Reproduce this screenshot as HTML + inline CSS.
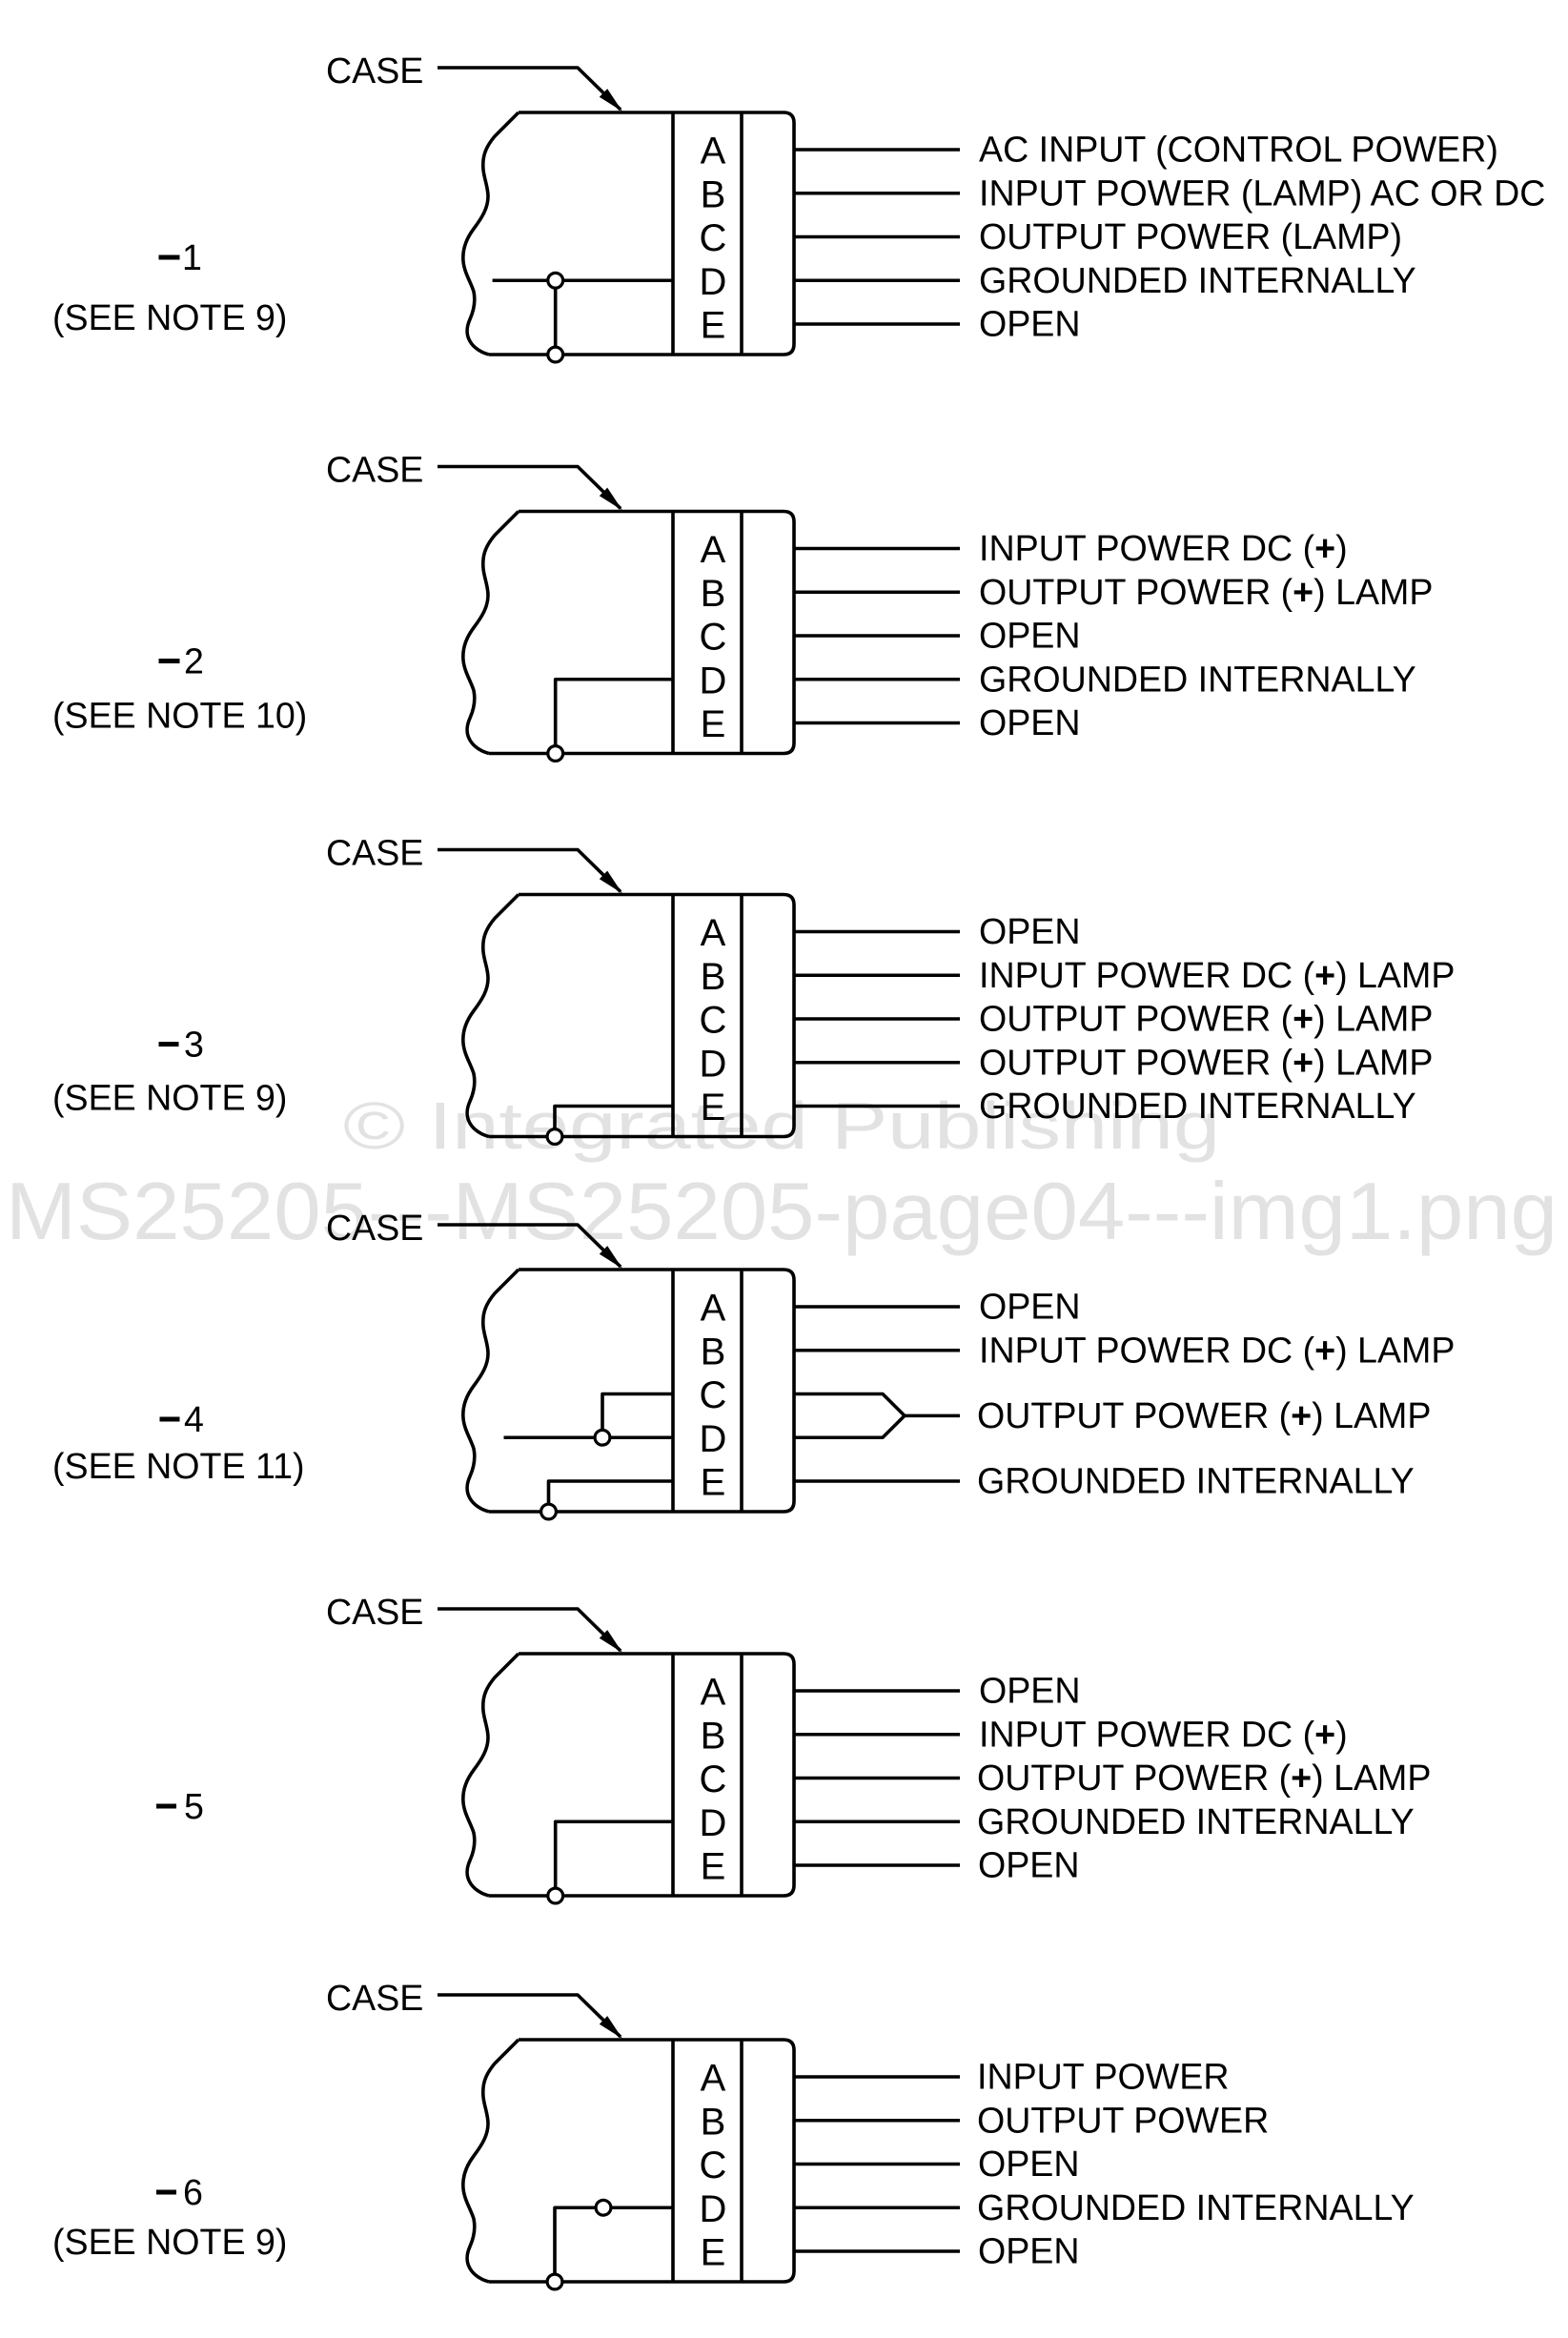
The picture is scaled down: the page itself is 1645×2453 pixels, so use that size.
<!DOCTYPE html>
<html>
<head>
<meta charset="utf-8">
<style>
  html, body { margin: 0; padding: 0; background: #ffffff; }
  svg { display: block; }
  .ln { fill: none; stroke: #000; stroke-width: 3.6; stroke-linejoin: round; }
  .ci { fill: #fff; stroke: #000; stroke-width: 3.2; }
  .t { font-family: "Liberation Sans", Arial, sans-serif; font-size: 37.6px; fill: #000; }
  .lt { font-family: "Liberation Sans", Arial, sans-serif; font-size: 40px; fill: #000; text-anchor: middle; }
  .wm { font-family: "Liberation Sans", Arial, sans-serif; fill: #e2e2e2; }
</style>
</head>
<body>
<svg width="1645" height="2453" viewBox="0 0 1645 2453" xmlns="http://www.w3.org/2000/svg">
  <rect x="0" y="0" width="1645" height="2453" fill="#fff"/>

  <!-- watermark -->
  <text class="wm" x="360" y="1205" font-size="70" textLength="920" lengthAdjust="spacingAndGlyphs">© Integrated Publishing</text>
  <text class="wm" x="6" y="1300" font-size="85" textLength="1628" lengthAdjust="spacingAndGlyphs">MS25205---MS25205-page04---img1.png</text>

  <defs>
    <g id="base">
      <text class="t" x="342" y="-31">CASE</text>
      <polyline class="ln" points="459,-47 606,-47 651,-3"/>
      <polygon points="653,-1 628.8,-16.3 637.2,-24.9" fill="#000"/>
      <path class="ln" d="M544,0 L519,25 C508,38 506,48 507,60 C508,70 512,78 512,88 C512,100 506,110 497,122 C488,134 485,145 486,156 C487,168 494,178 497,188 C499,198 497,208 493,217 C489,226 489,233 493,240 C497,247 505,252 513,254"/>
      <path class="ln" d="M544,0 L822,0 Q833,0 833,11 L833,243 Q833,254 822,254 L513,254"/>
      <path class="ln" d="M706,0 V254 M778,0 V254"/>
      <text class="lt" x="748" y="53.5">A</text>
      <text class="lt" x="748" y="99.25">B</text>
      <text class="lt" x="748" y="145">C</text>
      <text class="lt" x="748" y="190.75">D</text>
      <text class="lt" x="748" y="236.5">E</text>
    </g>
    <path id="fiveLines" class="ln" d="M833,39 H1007 M833,84.75 H1007 M833,130.5 H1007 M833,176.25 H1007 M833,222 H1007"/>
  </defs>

  <!-- Diagram 1 -->
  <g transform="translate(0,118)">
    <use href="#base"/>
    <use href="#fiveLines"/>
    <path class="ln" d="M516.6,176.25 H706 M582.7,176.25 V254"/>
    <circle class="ci" cx="582.7" cy="176.25" r="7.9"/>
    <circle class="ci" cx="582.7" cy="254" r="7.9"/>
    <rect x="166.5" y="149.5" width="22" height="5" fill="#000"/>
    <text class="t" x="191" y="165">1</text>
    <text class="t" x="55" y="228">(SEE NOTE 9)</text>
    <text class="t" x="1027" y="51.5">AC INPUT (CONTROL POWER)</text>
    <text class="t" x="1027" y="97.25">INPUT POWER (LAMP) AC OR DC</text>
    <text class="t" x="1027" y="143">OUTPUT POWER (LAMP)</text>
    <text class="t" x="1027" y="188.75">GROUNDED INTERNALLY</text>
    <text class="t" x="1027" y="234.5">OPEN</text>
  </g>

  <!-- Diagram 2 -->
  <g transform="translate(0,536.5)">
    <use href="#base"/>
    <use href="#fiveLines"/>
    <path class="ln" d="M706,176.25 H582.7 V254"/>
    <circle class="ci" cx="582.7" cy="254" r="7.9"/>
    <rect x="166.5" y="154.5" width="22" height="5" fill="#000"/>
    <text class="t" x="193" y="170">2</text>
    <text class="t" x="55" y="227">(SEE NOTE 10)</text>
    <text class="t" x="1027" y="51.5">INPUT POWER DC (<tspan font-weight="bold">+</tspan>)</text>
    <text class="t" x="1027" y="97.25">OUTPUT POWER (<tspan font-weight="bold">+</tspan>) LAMP</text>
    <text class="t" x="1027" y="143">OPEN</text>
    <text class="t" x="1027" y="188.75">GROUNDED INTERNALLY</text>
    <text class="t" x="1027" y="234.5">OPEN</text>
  </g>

  <!-- Diagram 3 -->
  <g transform="translate(0,938.5)">
    <use href="#base"/>
    <use href="#fiveLines"/>
    <path class="ln" d="M706,222 H582 V254"/>
    <circle class="ci" cx="582" cy="254" r="7.9"/>
    <rect x="166.5" y="154.5" width="21" height="5" fill="#000"/>
    <text class="t" x="193" y="170">3</text>
    <text class="t" x="55" y="226">(SEE NOTE 9)</text>
    <text class="t" x="1027" y="51.5">OPEN</text>
    <text class="t" x="1027" y="97.25">INPUT POWER DC (<tspan font-weight="bold">+</tspan>) LAMP</text>
    <text class="t" x="1027" y="143">OUTPUT POWER (<tspan font-weight="bold">+</tspan>) LAMP</text>
    <text class="t" x="1027" y="188.75">OUTPUT POWER (<tspan font-weight="bold">+</tspan>) LAMP</text>
    <text class="t" x="1027" y="234.5">GROUNDED INTERNALLY</text>
  </g>

  <!-- Diagram 4 -->
  <g transform="translate(0,1332)">
    <use href="#base"/>
    <path class="ln" d="M833,39 H1007 M833,84.75 H1007 M833,222 H1007"/>
    <path class="ln" d="M833,130.5 H926 L949,153.375 L926,176.25 H833 M949,153.375 H1007"/>
    <path class="ln" d="M706,130.5 H632 V176.25 M528.5,176.25 H706 M706,222 H575.5 V254"/>
    <circle class="ci" cx="632" cy="176.25" r="7.9"/>
    <circle class="ci" cx="575.5" cy="254" r="7.9"/>
    <rect x="167.5" y="154.5" width="21" height="5" fill="#000"/>
    <text class="t" x="193" y="170">4</text>
    <text class="t" x="55" y="219">(SEE NOTE 11)</text>
    <text class="t" x="1027" y="51.5">OPEN</text>
    <text class="t" x="1027" y="97.25">INPUT POWER DC (<tspan font-weight="bold">+</tspan>) LAMP</text>
    <text class="t" x="1025" y="165.9">OUTPUT POWER (<tspan font-weight="bold">+</tspan>) LAMP</text>
    <text class="t" x="1025" y="234.5">GROUNDED INTERNALLY</text>
  </g>

  <!-- Diagram 5 -->
  <g transform="translate(0,1735)">
    <use href="#base"/>
    <use href="#fiveLines"/>
    <path class="ln" d="M706,176.25 H582.7 V254"/>
    <circle class="ci" cx="582.7" cy="254" r="7.9"/>
    <rect x="164" y="157.5" width="21" height="5" fill="#000"/>
    <text class="t" x="193" y="173">5</text>
    <text class="t" x="1027" y="51.5">OPEN</text>
    <text class="t" x="1027" y="97.25">INPUT POWER DC (<tspan font-weight="bold">+</tspan>)</text>
    <text class="t" x="1025" y="143">OUTPUT POWER (<tspan font-weight="bold">+</tspan>) LAMP</text>
    <text class="t" x="1025" y="188.75">GROUNDED INTERNALLY</text>
    <text class="t" x="1026" y="234.5">OPEN</text>
  </g>

  <!-- Diagram 6 -->
  <g transform="translate(0,2140)">
    <use href="#base"/>
    <use href="#fiveLines"/>
    <path class="ln" d="M706,176.25 H582 V254"/>
    <circle class="ci" cx="633" cy="176.25" r="7.9"/>
    <circle class="ci" cx="582" cy="254" r="7.9"/>
    <rect x="164" y="157.5" width="21" height="5" fill="#000"/>
    <text class="t" x="192" y="173">6</text>
    <text class="t" x="55" y="225">(SEE NOTE 9)</text>
    <text class="t" x="1025" y="51.5">INPUT POWER</text>
    <text class="t" x="1025" y="97.25">OUTPUT POWER</text>
    <text class="t" x="1026" y="143">OPEN</text>
    <text class="t" x="1025" y="188.75">GROUNDED INTERNALLY</text>
    <text class="t" x="1026" y="234.5">OPEN</text>
  </g>
</svg>
</body>
</html>
